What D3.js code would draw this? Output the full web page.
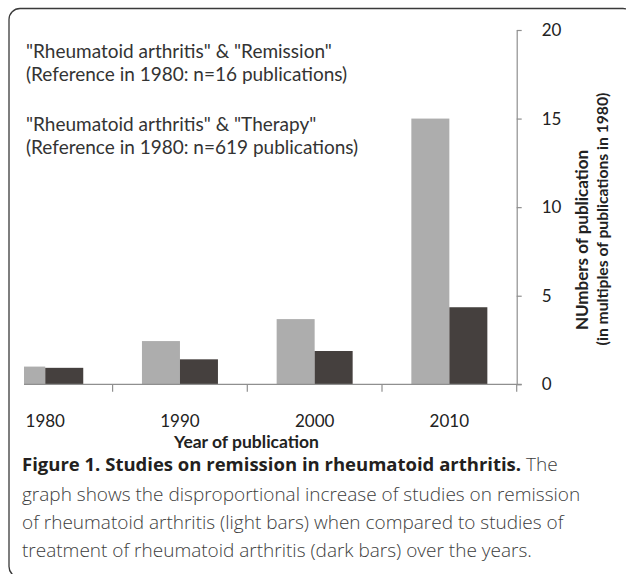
<!DOCTYPE html>
<html>
<head>
<meta charset="utf-8">
<script src="https://cdn.jsdelivr.net/npm/d3@7"></script>
<style>
  body { margin: 0; background: #fff; }
  svg { display: block; }
</style>
</head>
<body>
<div id="chart"></div>
<script>
// chart data
const years = ["1980", "1990", "2000", "2010"];
const remission = [1.0, 2.44, 3.68, 15.0];   // light bars
const therapy = [0.93, 1.41, 1.88, 4.35];    // dark bars
const yTicks = [0, 5, 10, 15, 20];

const legendLines = [
  "\"Rheumatoid arthritis\" & \"Remission\"",
  "(Reference in 1980: n=16 publications)",
  "\"Rheumatoid arthritis\" & \"Therapy\"",
  "(Reference in 1980: n=619 publications)"
];
const yTitle = ["NUmbers of publication", "(in multiples of publications in 1980)"];
const xTitle = "Year of publication";
const captionBold = "Figure 1. Studies on remission in rheumatoid arthritis.";
const captionLines = [
  " The",
  "graph shows the disproportional increase of studies on remission",
  "of rheumatoid arthritis (light bars) when compared to studies of",
  "treatment of rheumatoid arthritis (dark bars) over the years."
];

const width = 626, height = 574;
const svg = d3.select("#chart").append("svg")
  .attr("width", width)
  .attr("height", height);

// frame around the figure
svg.append("rect")
  .attr("x", 9).attr("y", 8.5)
  .attr("width", 625).attr("height", 569)
  .attr("rx", 11)
  .attr("fill", "none")
  .attr("stroke", "#3a3a3a")
  .attr("stroke-width", 1.3);

const axisX = 516.7, plotLeft = 24, bandW = 134.7;

const x = d3.scaleBand().domain(years)
  .range([axisX - years.length * bandW, axisX]);
const series = d3.scaleBand().domain(["remission", "therapy"])
  .range([x.bandwidth() / 2 - 38, x.bandwidth() / 2 + 38]);
const y = d3.scaleLinear().domain([0, 20]).range([384.3, 30]);

svg.append("defs").append("clipPath").attr("id", "plot")
  .append("rect")
  .attr("x", plotLeft).attr("y", 0)
  .attr("width", axisX - plotLeft).attr("height", height);

const rows = years.map((yr, i) => ({ year: yr, remission: remission[i], therapy: therapy[i] }));
const colors = { remission: "#adadad", therapy: "#45403e" };

const bars = svg.append("g").attr("clip-path", "url(#plot)");
bars.selectAll("g")
  .data(rows)
  .join("g")
  .attr("transform", d => `translate(${x(d.year)},0)`)
  .selectAll("rect")
  .data(d => ["remission", "therapy"].map(k => ({ key: k, value: d[k] })))
  .join("rect")
  .attr("x", d => series(d.key))
  .attr("width", series.bandwidth())
  .attr("y", d => y(d.value))
  .attr("height", d => y(0) - y(d.value))
  .attr("fill", d => colors[d.key]);

// category axis
const axisColor = "#8f8f8f";
svg.append("line")
  .attr("x1", plotLeft).attr("x2", axisX + 5)
  .attr("y1", y(0)).attr("y2", y(0))
  .attr("stroke", axisColor).attr("stroke-width", 1.2);
svg.selectAll(".xtick")
  .data(years)
  .join("line")
  .attr("class", "xtick")
  .attr("x1", d => x(d) + x.bandwidth()).attr("x2", d => x(d) + x.bandwidth())
  .attr("y1", y(0)).attr("y2", y(0) + 7.5)
  .attr("stroke", axisColor).attr("stroke-width", 1.2);
svg.selectAll(".xlab")
  .data(years)
  .join("text")
  .attr("class", "xlab")
  .attr("x", d => x(d) + x.bandwidth() / 2)
  .attr("y", 427)
  .attr("text-anchor", "middle")
  .attr("font-family", "Lato, sans-serif")
  .attr("font-size", 17)
  .attr("fill", "#222")
  .text(d => d);

svg.append("text")
  .attr("x", 246.5).attr("y", 448)
  .attr("text-anchor", "middle")
  .attr("font-family", "Lato, sans-serif")
  .attr("font-weight", "bold")
  .attr("font-size", 17.5)
  .attr("fill", "#222")
  .text(xTitle);

// value axis on the right
const yAxis = svg.append("g")
  .attr("transform", `translate(${axisX},0)`)
  .call(d3.axisRight(y).tickValues(yTicks).tickSize(5).tickSizeOuter(0).tickPadding(20));
yAxis.select(".domain").attr("stroke", axisColor).attr("stroke-width", 1.2);
yAxis.selectAll(".tick line").attr("stroke", axisColor).attr("stroke-width", 1.2);
yAxis.selectAll(".tick text")
  .attr("font-family", "Lato, sans-serif")
  .attr("font-size", 17)
  .attr("fill", "#222");

const yTitlePos = [[588, 240, 17], [608, 219, 15.7]];
svg.selectAll(".ytitle")
  .data(yTitle)
  .join("text")
  .attr("class", "ytitle")
  .attr("transform", (d, i) => `translate(${yTitlePos[i][0]},${yTitlePos[i][1]}) rotate(-90)`)
  .attr("text-anchor", "middle")
  .attr("font-family", "Lato, sans-serif")
  .attr("font-weight", "bold")
  .attr("font-size", (d, i) => yTitlePos[i][2])
  .attr("fill", "#222")
  .text(d => d);

// series notes in the upper left
const legendY = [58, 81, 131, 154];
svg.selectAll(".legend")
  .data(legendLines)
  .join("text")
  .attr("class", "legend")
  .attr("x", 26)
  .attr("y", (d, i) => legendY[i])
  .attr("font-family", "Lato, sans-serif")
  .attr("font-size", 19)
  .attr("fill", "#333")
  .text(d => d);

// caption
const capY = [471, 501, 529, 557];
const cap = svg.append("g")
  .attr("font-family", "'Open Sans', sans-serif")
  .attr("font-size", 19);
const first = cap.append("text").attr("x", 22).attr("y", capY[0]);
first.append("tspan").attr("font-weight", "bold").attr("font-size", 18.5)
  .attr("fill", "#231f20").text(captionBold);
first.append("tspan").attr("font-weight", 300).attr("fill", "#3d3d3d").text(captionLines[0]);
cap.selectAll(".capline")
  .data(captionLines.slice(1))
  .join("text")
  .attr("class", "capline")
  .attr("x", 22)
  .attr("y", (d, i) => capY[i + 1])
  .attr("font-weight", 300)
  .attr("fill", "#3d3d3d")
  .text(d => d);
</script>
</body>
</html>
